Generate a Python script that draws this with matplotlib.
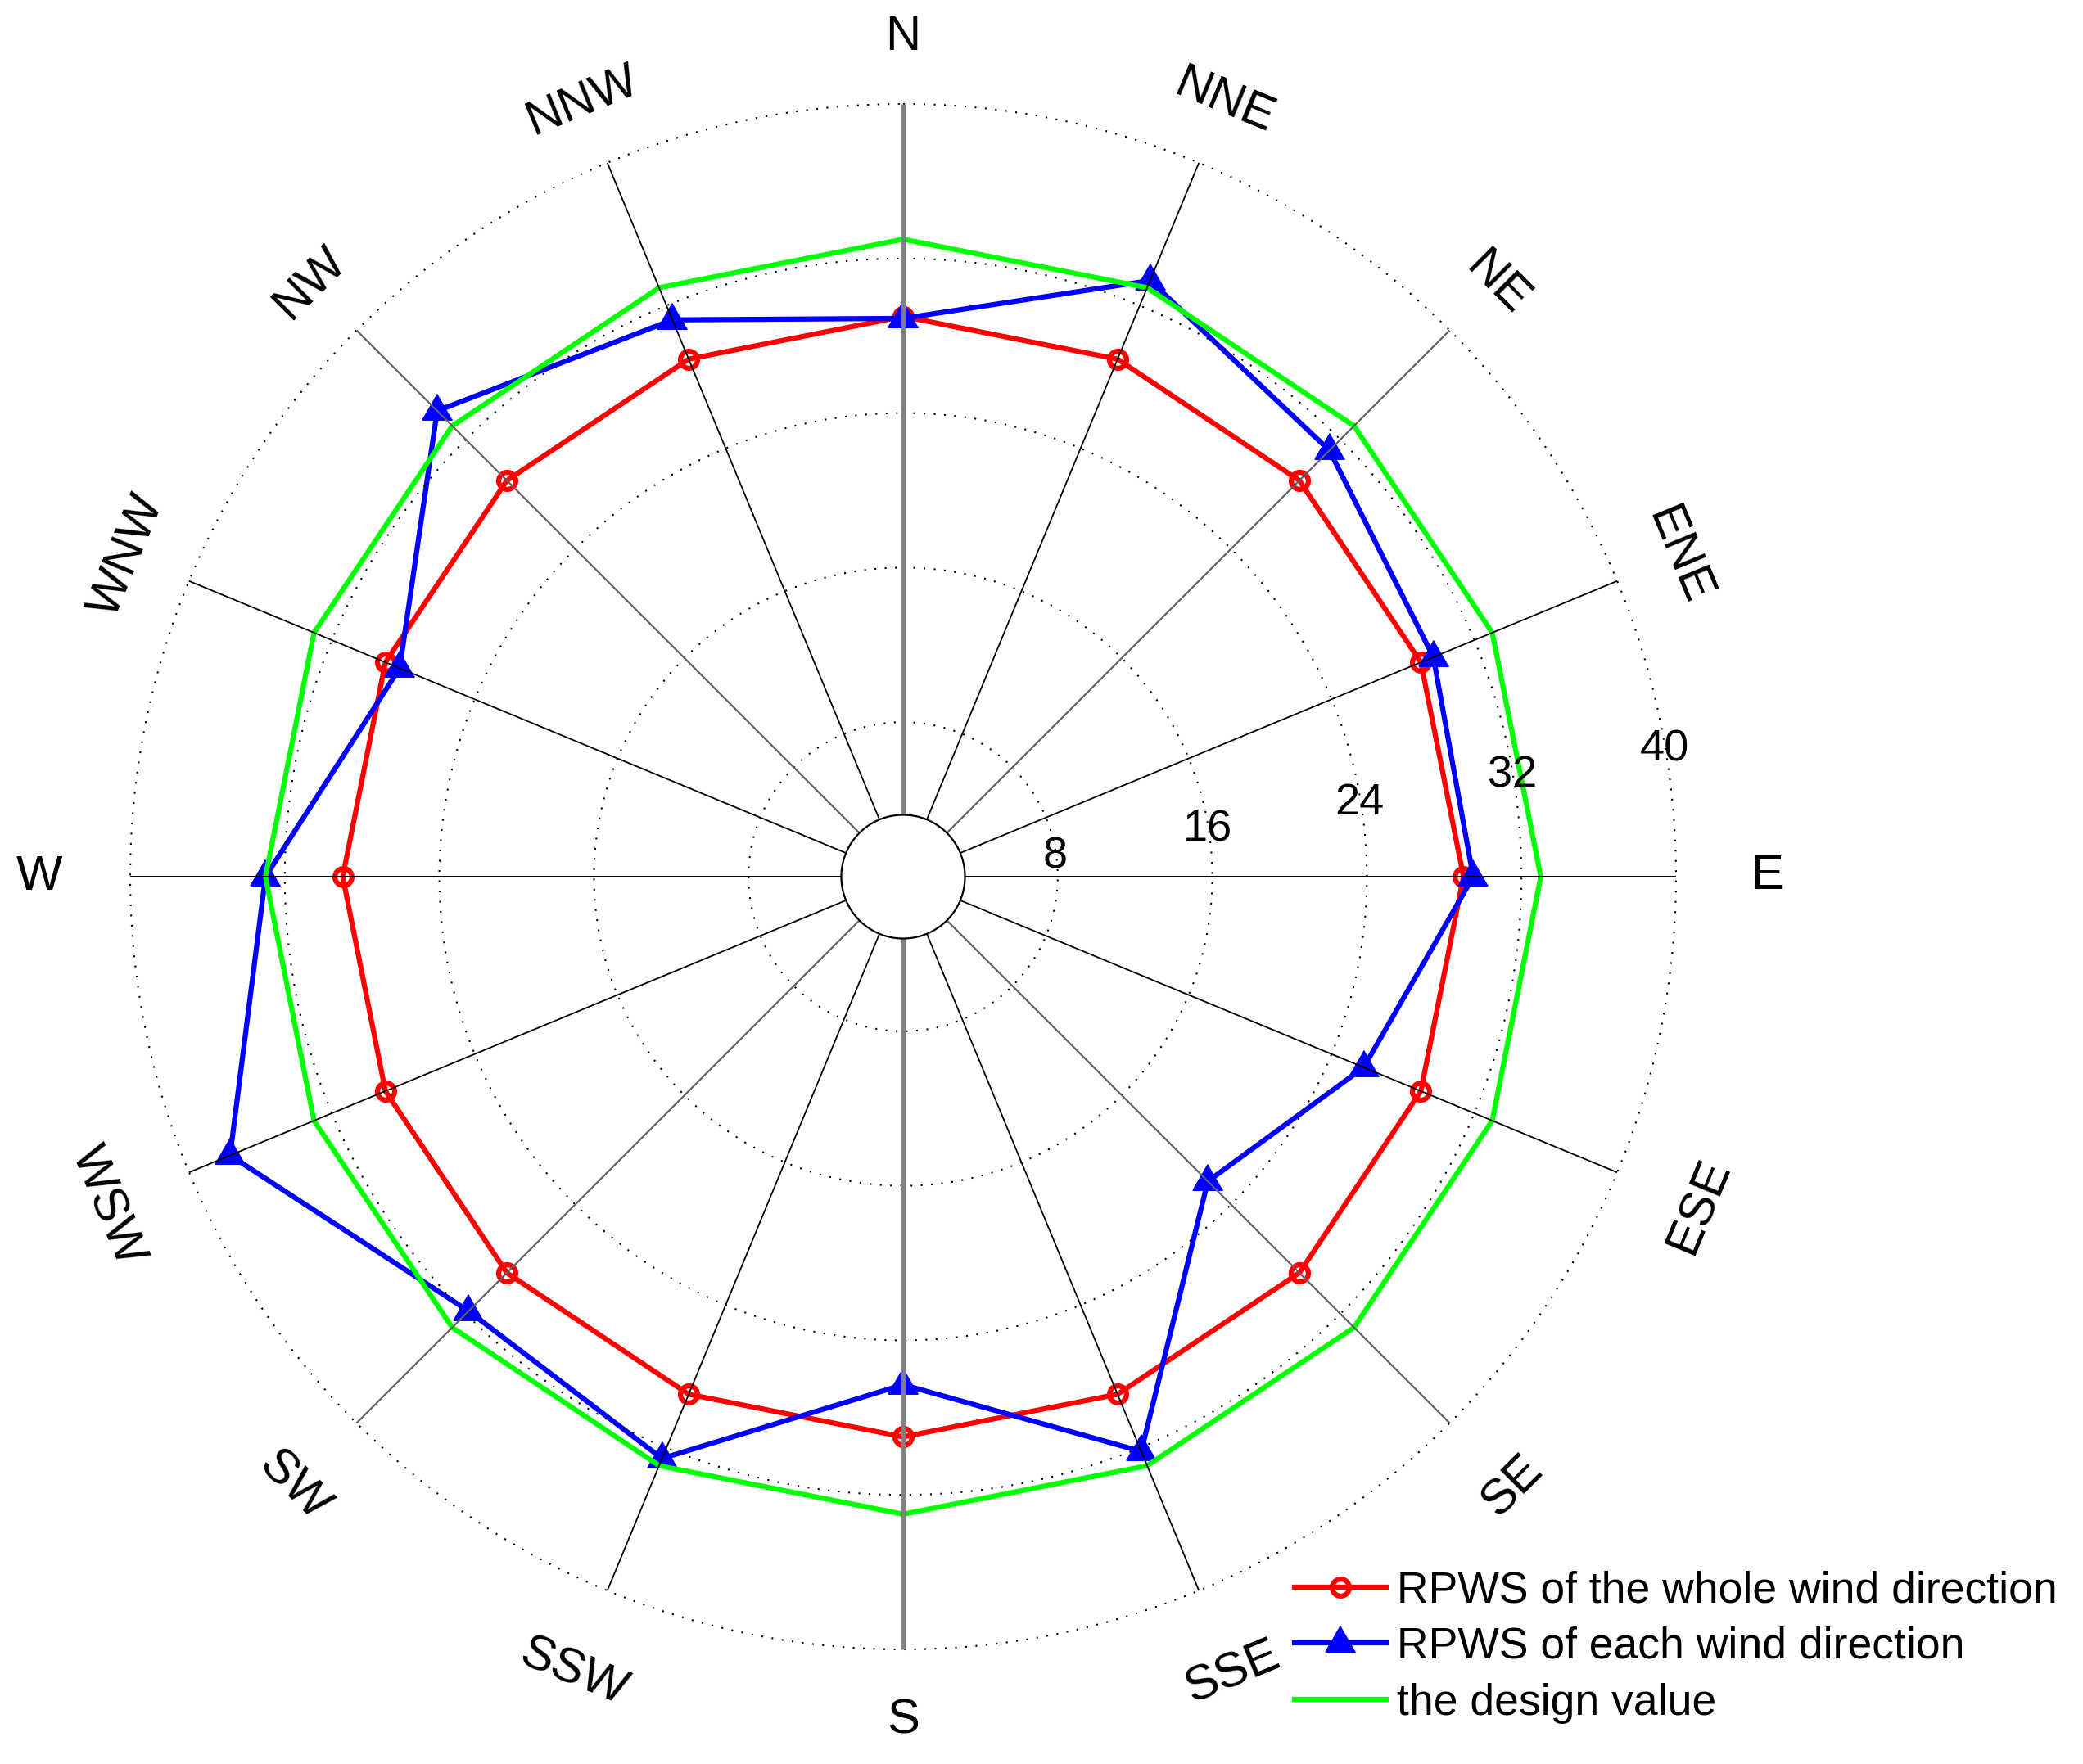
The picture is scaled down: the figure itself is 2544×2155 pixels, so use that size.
import numpy as np
import matplotlib
matplotlib.use('Agg')
import matplotlib.pyplot as plt
import matplotlib.transforms as mtransforms
from matplotlib.lines import Line2D

plt.rcParams['font.family'] = ['Liberation Sans', 'DejaVu Sans']

# ---- data ----
directions = ['N', 'NNE', 'NE', 'ENE', 'E', 'ESE', 'SE', 'SSE',
              'S', 'SSW', 'SW', 'WSW', 'W', 'WNW', 'NW', 'NNW']
rpws_whole = [29.0, 29.0, 29.0, 29.0, 29.0, 29.0, 29.0, 29.0,
              29.0, 29.0, 29.0, 29.0, 29.0, 29.0, 29.0, 29.0]
rpws_each = [28.9, 33.4, 31.2, 29.7, 29.5, 25.8, 22.3, 32.2,
             26.3, 32.6, 31.8, 37.7, 33.0, 28.2, 34.1, 31.2]
design_value = [33.0, 33.0, 33.0, 33.0, 33.0, 33.0, 33.0, 33.0,
                33.0, 33.0, 33.0, 33.0, 33.0, 33.0, 33.0, 33.0]
r_ticks = [8, 16, 24, 32, 40]
legend_labels = ['RPWS of the whole wind direction',
                 'RPWS of each wind direction',
                 'the design value']

# ---- figure ----
W, H = 2544, 2155
fig = plt.figure(figsize=(W / 100, H / 100), dpi=100)
cx, cy, R = 1103, 1071, 944
ax = fig.add_axes([(cx - R) / W, (H - cy - R) / H, 2 * R / W, 2 * R / H],
                  projection='polar')
ax.set_theta_zero_location('N')
ax.set_theta_direction(-1)
ax.set_ylim(0, r_ticks[-1])
ax.grid(False)
ax.spines['polar'].set_visible(False)
ax.set_xticks([])
ax.set_yticks([])
ax.patch.set_alpha(0)

n = len(directions)
theta_deg = np.arange(n) * 360.0 / n
theta = np.deg2rad(theta_deg)
th_c = np.append(theta, theta[0])


def closed(v):
    return np.append(np.asarray(v, float), v[0])


tri = [(0, 1), (-0.866, -0.5), (0.866, -0.5)]
red_style = dict(color='#ff0000', lw=4.5, marker='o', ms=15, mew=4.5,
                 mfc='none', mec='#ff0000')
blue_style = dict(color='#0000ff', lw=4.5, marker=tri, ms=30, mew=1.5,
                  mfc='#0000ff', mec='#0000ff')
green_style = dict(color='#00ff00', lw=4.5)

ax.plot(th_c, closed(rpws_whole), zorder=2, clip_on=False, **red_style)
ax.plot(th_c, closed(rpws_each), zorder=2, clip_on=False, **blue_style)
ax.plot(th_c, closed(design_value), zorder=2, clip_on=False, **green_style)

# dotted rings
tt = np.linspace(0, 2 * np.pi, 1441)
for r in r_ticks:
    ax.plot(tt, np.full_like(tt, r), color='black', lw=1.5,
            linestyle=(0, (1, 5)), zorder=4, clip_on=False)

# spokes
for i, t in enumerate(theta):
    if i % 8 == 0:
        col, lw = '#808080', 3.5
    elif i % 4 == 0:
        col, lw = 'black', 1.4
    elif i % 2 == 0:
        col, lw = '#606060', 1.6
    else:
        col, lw = 'black', 1.3
    ax.plot([t, t], [0, r_ticks[-1]], color=col, lw=lw, zorder=4,
            clip_on=False, solid_capstyle='butt')

# centre disc
ax.fill(tt, np.full_like(tt, 3.2), facecolor='white', edgecolor='black',
        lw=1.6, zorder=5)

# radial tick labels
tick_tr = mtransforms.offset_copy(ax.transData, fig=fig, x=0, y=-8,
                                  units='dots')
for r in r_ticks:
    ax.text(np.deg2rad(80), r, str(r), ha='center', va='center',
            fontsize=39, zorder=6, transform=tick_tr)

# direction labels
for name, d, t in zip(directions, theta_deg, theta):
    if d % 180 == 90:
        rot, rl = 0, 44.7
    elif d == 180:
        rot, rl = 0, 43.7
    else:
        rot = ((-d + 90) % 180) - 90
        rl = 43.45 if np.cos(t) > 0 else 44.6
    ax.text(t, rl, name, rotation=rot, rotation_mode='anchor',
            ha='center', va='center', fontsize=43, clip_on=False)

# legend
handles = [Line2D([], [], **red_style),
           Line2D([], [], **blue_style),
           Line2D([], [], **green_style)]
fig.legend(handles, legend_labels, loc='center left',
           bbox_to_anchor=(1554 / W, 143 / H), frameon=False, fontsize=38.5,
           handlelength=2.1, handletextpad=0.25, labelspacing=0.35,
           borderpad=0, numpoints=1)

fig.savefig('out.png', dpi=100, facecolor='white')
